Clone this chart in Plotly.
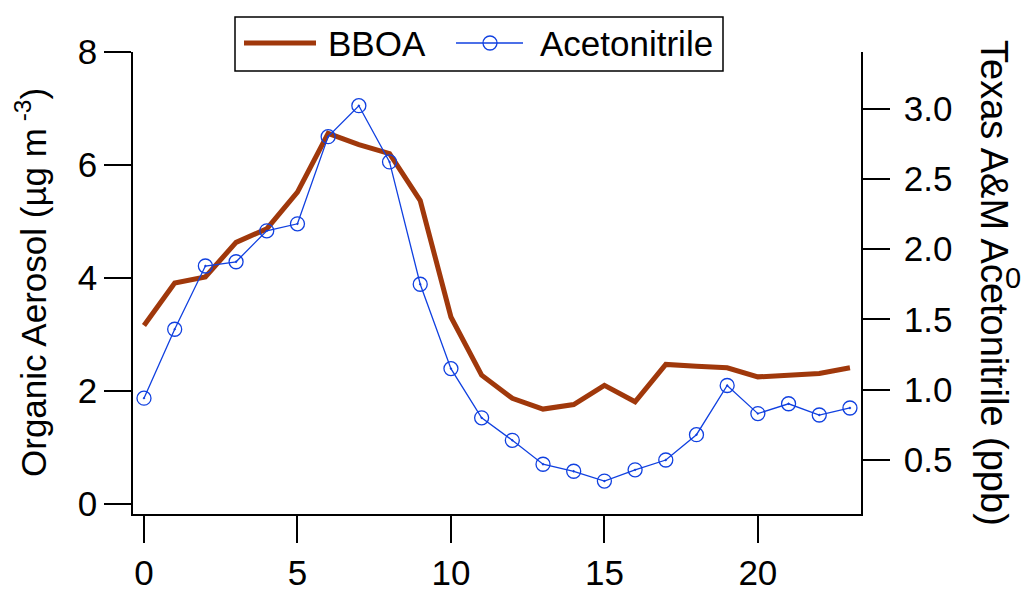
import plotly.graph_objects as go

hours = list(range(24))
bboa = [3.16, 3.91, 4.02, 4.63, 4.87, 5.52, 6.56, 6.36, 6.20, 5.37, 3.31, 2.28,
        1.87, 1.68, 1.76, 2.10, 1.81, 2.47, 2.44, 2.41, 2.25, 2.28, 2.31, 2.41]
acetonitrile = [0.94, 1.43, 1.88, 1.91, 2.13, 2.18, 2.80, 3.02, 2.62, 1.75, 1.15, 0.80,
                0.64, 0.47, 0.42, 0.35, 0.43, 0.50, 0.68, 1.03, 0.83, 0.90, 0.82, 0.87]
left_ticks = [0, 2, 4, 6, 8]
right_ticks = [0.5, 1.0, 1.5, 2.0, 2.5, 3.0]
x_ticks = [0, 5, 10, 15, 20]

BROWN = "#A0380B"
BLUE = "#1040E0"
FONT = "Liberation Sans, Arial, sans-serif"

W, H = 1024, 595
L, R, T, B = 133, 163, 52, 81
PW, PH = W - L - R, H - T - B


def px(x):
    return (x - L) / PW


def py(y):
    return (H - B - y) / PH


fig = go.Figure()
fig.add_trace(go.Scatter(x=hours, y=bboa, name="BBOA", mode="lines",
                         line=dict(color=BROWN, width=5), yaxis="y"))
fig.add_trace(go.Scatter(x=hours, y=acetonitrile, name="Acetonitrile", mode="lines+markers",
                         line=dict(color=BLUE, width=1.3),
                         marker=dict(symbol="circle-open-dot", size=14, color=BLUE,
                                     line=dict(color=BLUE, width=1.3)),
                         yaxis="y2"))

axis_common = dict(showgrid=False, zeroline=False, showline=True, linecolor="black",
                   linewidth=1.5, ticks="outside", ticklen=27, tickwidth=1.5,
                   tickcolor="black", tickfont=dict(family=FONT, size=35, color="black"))

fig.update_layout(
    width=W, height=H,
    margin=dict(l=L, r=R, t=T, b=B, autoexpand=False),
    paper_bgcolor="white", plot_bgcolor="white",
    showlegend=False,
    font=dict(family=FONT, color="black"),
    xaxis=dict(range=[-0.358, 23.36], tickvals=x_ticks, **axis_common),
    yaxis=dict(range=[-0.177, 8.0], tickvals=left_ticks, **axis_common),
    yaxis2=dict(range=[0.116, 3.402], tickvals=right_ticks, tickformat=".1f",
                overlaying="y", side="right", ticklabelstandoff=7, **axis_common),
)

# axis titles
fig.add_annotation(text="Organic Aerosol (µg m<sup> -3</sup>)", textangle=-90,
                   x=px(31), y=py(283), xref="paper", yref="paper",
                   xanchor="center", yanchor="middle", showarrow=False,
                   font=dict(family=FONT, size=35, color="black"))
fig.add_annotation(text="Texas A&M Acetonitrile (ppb)", textangle=90,
                   x=px(994), y=py(283), xref="paper", yref="paper",
                   xanchor="center", yanchor="middle", showarrow=False,
                   font=dict(family=FONT, size=38, color="black"))
fig.add_annotation(text="0", x=px(1003), y=py(278), xref="paper", yref="paper",
                   xanchor="left", yanchor="middle", showarrow=False,
                   font=dict(family=FONT, size=29, color="black"))

# legend box (drawn manually to match sample lengths)
fig.add_shape(type="rect", xref="paper", yref="paper",
              x0=px(235), x1=px(723), y0=py(71), y1=py(17),
              line=dict(color="black", width=1.5), fillcolor="white")
fig.add_shape(type="line", xref="paper", yref="paper",
              x0=px(244), x1=px(316), y0=py(43), y1=py(43),
              line=dict(color=BROWN, width=5))
fig.add_annotation(text="BBOA", x=px(326), y=py(43), xref="paper", yref="paper",
                   xanchor="left", yanchor="middle", showarrow=False,
                   font=dict(family=FONT, size=35, color="black"))
fig.add_shape(type="line", xref="paper", yref="paper",
              x0=px(456), x1=px(523), y0=py(43), y1=py(43),
              line=dict(color=BLUE, width=1.3))
fig.add_shape(type="circle", xref="paper", yref="paper",
              x0=px(483), x1=px(497), y0=py(50), y1=py(36),
              line=dict(color=BLUE, width=1.3), fillcolor="rgba(0,0,0,0)")
fig.add_annotation(text="Acetonitrile", x=px(538), y=py(43), xref="paper", yref="paper",
                   xanchor="left", yanchor="middle", showarrow=False,
                   font=dict(family=FONT, size=35, color="black"))

fig.write_html("out.html")
